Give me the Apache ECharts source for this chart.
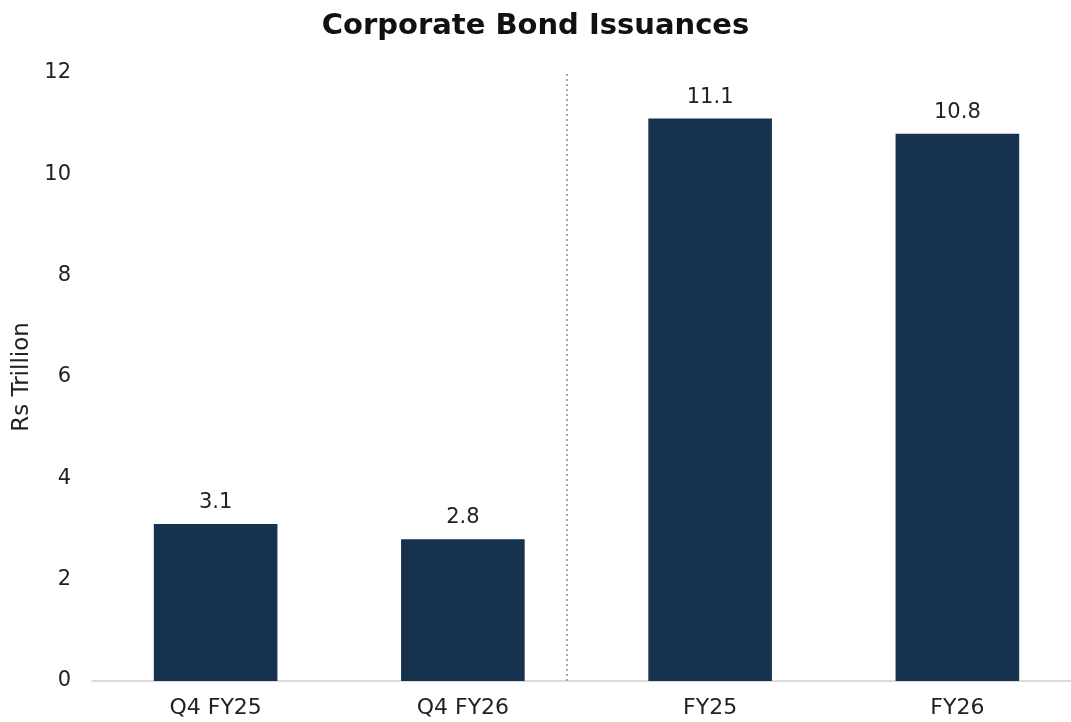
<!DOCTYPE html>
<html>
<head>
<meta charset="utf-8">
<script src="https://cdn.jsdelivr.net/npm/echarts@6/dist/echarts.min.js"></script>
<style>
  html, body { margin: 0; padding: 0; background: #fff; }
  #main { width: 1071px; height: 722px; }
</style>
</head>
<body>
<div id="main"></div>
<script>
// chart data
var categories = ['Q4 FY25', 'Q4 FY26', 'FY25', 'FY26'];
var issuance = [3.1, 2.8, 11.1, 10.8];
var dividerPos = [1.917]; // between quarterly and annual groups, in category units

var chart = echarts.init(document.getElementById('main'));
var font = '"DejaVu Sans", "Open Sans", sans-serif';

var option = {
    animation: false,
    title: {
        text: 'Corporate Bond Issuances',
        left: 'center',
        top: 7,
        textStyle: { fontFamily: font, fontSize: 29, fontWeight: 'bold', color: '#111' }
    },
    // plot runs a little past the right edge, as in the original
    grid: { left: 92, width: 989, top: 73, height: 608, outerBoundsMode: 'none' },
    xAxis: [
        {
            type: 'category',
            data: categories,
            axisTick: { show: false },
            axisLine: { lineStyle: { color: '#cfcfcf', width: 1.5 } },
            axisLabel: { fontFamily: font, fontSize: 22, color: '#222', margin: 16 }
        },
        {
            type: 'value',
            min: 0,
            max: 4,
            show: false
        }
    ],
    yAxis: {
        type: 'value',
        min: 0,
        max: 12,
        interval: 2,
        name: 'Rs Trillion',
        nameLocation: 'middle',
        nameGap: 58,
        nameTextStyle: { fontFamily: font, fontSize: 23, color: '#222' },
        axisLine: { show: false },
        axisTick: { show: false },
        splitLine: { show: false },
        axisLabel: { fontFamily: font, fontSize: 21, color: '#222', margin: 21 }
    },
    series: [
        {
            type: 'bar',
            data: issuance,
            barWidth: '50%',
            itemStyle: { color: '#17324F' },
            label: {
                show: true,
                position: 'top',
                distance: 11,
                fontFamily: font,
                fontSize: 21,
                color: '#222',
                formatter: function (p) { return p.value.toFixed(1); }
            }
        },
        {
            type: 'line',
            xAxisIndex: 1,
            data: [],
            markLine: {
                silent: true,
                symbol: ['none', 'none'],
                label: { show: false },
                lineStyle: { color: '#a8a8a8', type: [2, 3], width: 2 },
                data: dividerPos.map(function (v) { return { xAxis: v }; })
            }
        }
    ]
};

chart.setOption(option);
</script>
</body>
</html>
